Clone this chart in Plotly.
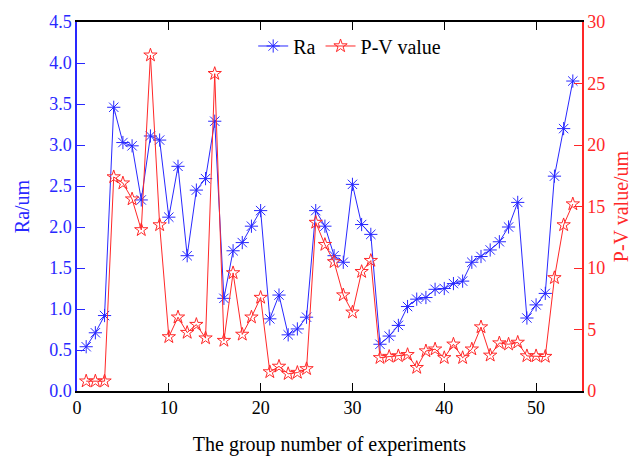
import plotly.graph_objects as go

groups = list(range(1, 55))
ra = [0.54, 0.71, 0.92, 3.46, 3.03, 2.99, 2.33, 3.11, 3.06, 2.12,
      2.74, 1.65, 2.45, 2.59, 3.29, 1.13, 1.71, 1.81, 2.01, 2.20,
      0.88, 1.17, 0.685, 0.757, 0.90, 2.20, 2.01, 1.65, 1.57, 2.52,
      2.03, 1.91, 0.57, 0.67, 0.80, 1.03, 1.12, 1.14, 1.24, 1.25,
      1.31, 1.34, 1.57, 1.64, 1.72, 1.82, 2.00, 2.30, 0.89, 1.05,
      1.19, 2.62, 3.20, 3.78]
pv = [0.8, 0.8, 0.8, 17.4, 16.9, 15.6, 13.1, 27.3, 13.5, 4.4,
      6.0, 4.75, 5.4, 4.3, 25.8, 4.1, 9.6, 4.6, 6.0, 7.6,
      1.55, 2.0, 1.4, 1.5, 1.8, 13.7, 11.9, 10.5, 7.8, 6.4,
      9.7, 10.6, 2.7, 2.8, 2.85, 2.95, 1.9, 3.25, 3.4, 2.7,
      3.8, 2.7, 3.4, 5.2, 2.9, 3.9, 3.8, 3.95, 2.85, 2.85,
      2.8, 9.2, 13.5, 15.2]

BLUE = "rgb(40,40,255)"
RED = "rgb(255,40,40)"
FONT = "Times New Roman, Liberation Serif, serif"

fig = go.Figure()
fig.add_trace(go.Scatter(
    x=groups, y=ra, name="Ra", mode="lines+markers",
    line=dict(color=BLUE, width=1),
    marker=dict(symbol="asterisk-open", size=11, color=BLUE,
                line=dict(color=BLUE, width=1)),
))
fig.add_trace(go.Scatter(
    x=groups, y=pv, name="P-V value", mode="lines+markers", yaxis="y2",
    line=dict(color=RED, width=1),
    marker=dict(symbol="star-open", size=10, color=RED,
                line=dict(color=RED, width=1)),
))

fig.update_layout(
    width=641, height=464,
    margin=dict(l=77, r=56, t=22, b=67),
    paper_bgcolor="white", plot_bgcolor="white",
    font=dict(family=FONT, size=18, color="black"),
    showlegend=True,
    legend=dict(orientation="h", x=0.54, y=0.935, xanchor="center", yanchor="middle",
                font=dict(family=FONT, size=20), bgcolor="rgba(0,0,0,0)",
                itemwidth=30, tracegroupgap=0),
    xaxis=dict(
        range=[0, 55], tickvals=[0, 10, 20, 30, 40, 50],
        ticks="inside", ticklen=8, tickcolor="black", showline=True,
        linecolor="black", linewidth=1.5, mirror="ticks", showgrid=False,
        zeroline=False, tickfont=dict(family=FONT, size=18, color="black"),
        title=dict(text="The group number of experiments", standoff=20,
                   font=dict(family=FONT, size=20, color="black")),
    ),
    yaxis=dict(
        range=[0, 4.5], dtick=0.5, tickformat=".1f",
        ticks="inside", ticklen=8, tickcolor=BLUE, showline=True,
        linecolor=BLUE, linewidth=1.5, showgrid=False, zeroline=False,
        tickfont=dict(family=FONT, size=18, color=BLUE),
        title=dict(text="Ra/um", standoff=14,
                   font=dict(family=FONT, size=20, color=BLUE)),
    ),
    yaxis2=dict(
        range=[0, 30], dtick=5, overlaying="y", side="right",
        ticks="inside", ticklen=8, tickcolor=RED, showline=True,
        linecolor=RED, linewidth=1.5, showgrid=False, zeroline=False,
        tickfont=dict(family=FONT, size=18, color=RED),
        title=dict(text="P-V value/um", standoff=10,
                   font=dict(family=FONT, size=20, color=RED)),
    ),
)

fig.write_html("out.html")
